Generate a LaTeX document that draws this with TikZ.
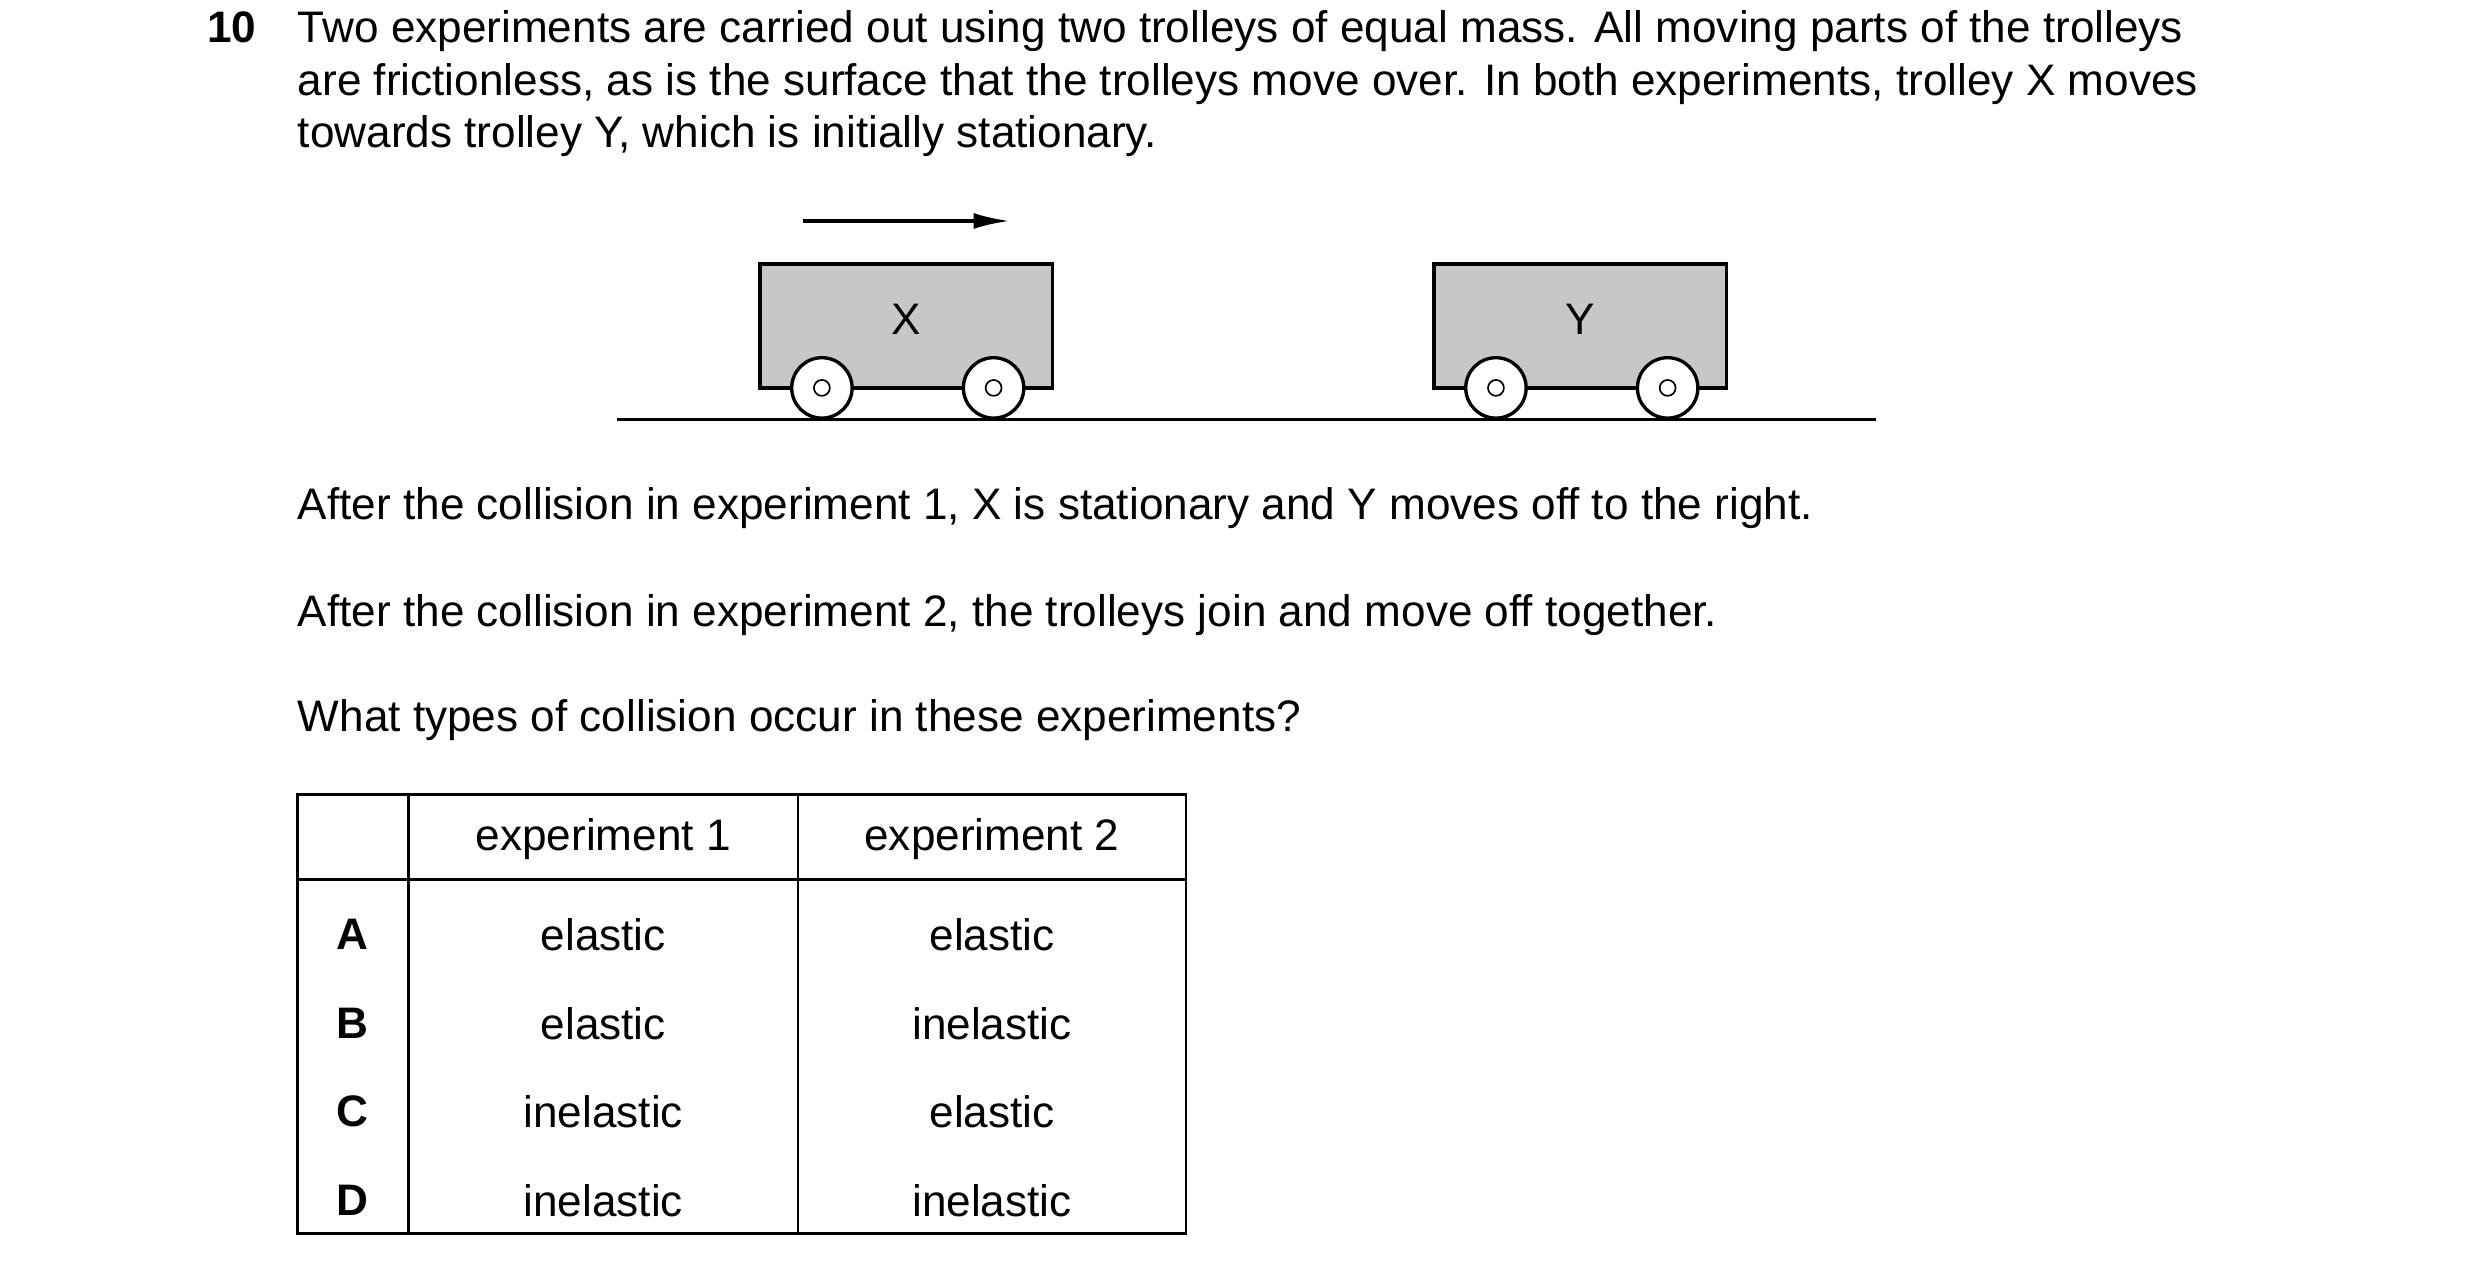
\documentclass[tikz,border=0pt]{standalone}
\usepackage{fontspec}
\setmainfont{Liberation Sans}
\usetikzlibrary{arrows.meta}
\begin{document}
\begin{tikzpicture}[x=0.02cm,y=-0.02cm,
  txt/.style={anchor=base west,inner sep=0,font=\fontsize{15.8}{19}\selectfont},
  cell/.style={inner sep=0,font=\fontsize{15.8}{19}\selectfont},
  body/.style={draw,line width=1.2pt,fill=black!22},
  wheel/.style={draw,line width=1.2pt,fill=white,circle,minimum size=0.76cm,inner sep=0},
  hub/.style={draw,line width=0.6pt,circle,minimum size=0.2cm,inner sep=0}]
\useasboundingbox (0,0) rectangle (1560,798);
\node[txt,font=\fontsize{15.8}{19}\selectfont\bfseries] (q) at (130,27) {10};
\node[txt] (l1) at (187,27) {Two experiments are carried out using two trolleys of equal mass. All moving parts of the trolleys};
\node[txt] (l2) at (187,60) {are frictionless, as is the surface that the trolleys move over. In both experiments, trolley X moves};
\node[txt] (l3) at (187,93) {towards trolley Y, which is initially stationary.};
% arrow
\coordinate (a1) at (505,139); \coordinate (a2) at (635,139);
\draw[line width=1.2pt,-{Latex[length=0.45cm,width=0.2cm]}] (a1) -- (a2);
% trolleys
\foreach \n/\x in {X/478,Y/902}{
  \draw[body] (\x,166) rectangle ++(184,78);
  \node[cell] (lab\n) at (\x+92,201) {\n};
  \node[wheel] (w1\n) at (\x+39,244) {}; \node[hub] at (w1\n) {};
  \node[wheel] (w2\n) at (\x+147,244) {}; \node[hub] at (w2\n) {};
}
\coordinate (g1) at (388,264); \coordinate (g2) at (1180,264);
\draw[line width=1.2pt] (g1) -- (g2);
\node[txt] (p1) at (187,327) {After the collision in experiment 1, X is stationary and Y moves off to the right.};
\node[txt] (p2) at (187,394) {After the collision in experiment 2, the trolleys join and move off together.};
\node[txt] (p3) at (187,460) {What types of collision occur in these experiments?};
% table
\draw[line width=1pt] (187,500) rectangle (746,776);
\draw[line width=1pt] (187,553) -- (746,553);
\draw[line width=1pt] (257,500) -- (257,776);
\draw[line width=1pt] (502,500) -- (502,776);
\node[cell] (h1) at (379.5,528) {experiment 1};
\node[cell] (h2) at (624,528) {experiment 2};
\foreach \L/\a/\b/\y in {A/elastic/elastic/588,B/elastic/inelastic/644,C/inelastic/elastic/699,D/inelastic/inelastic/755}{
  \node[cell,font=\fontsize{15.8}{19}\selectfont\bfseries] (r\L) at (222,\y) {\L};
  \node[cell] (e1\L) at (379.5,\y) {\a};
  \node[cell] (e2\L) at (624,\y) {\b};
}
\end{tikzpicture}
\end{document}
